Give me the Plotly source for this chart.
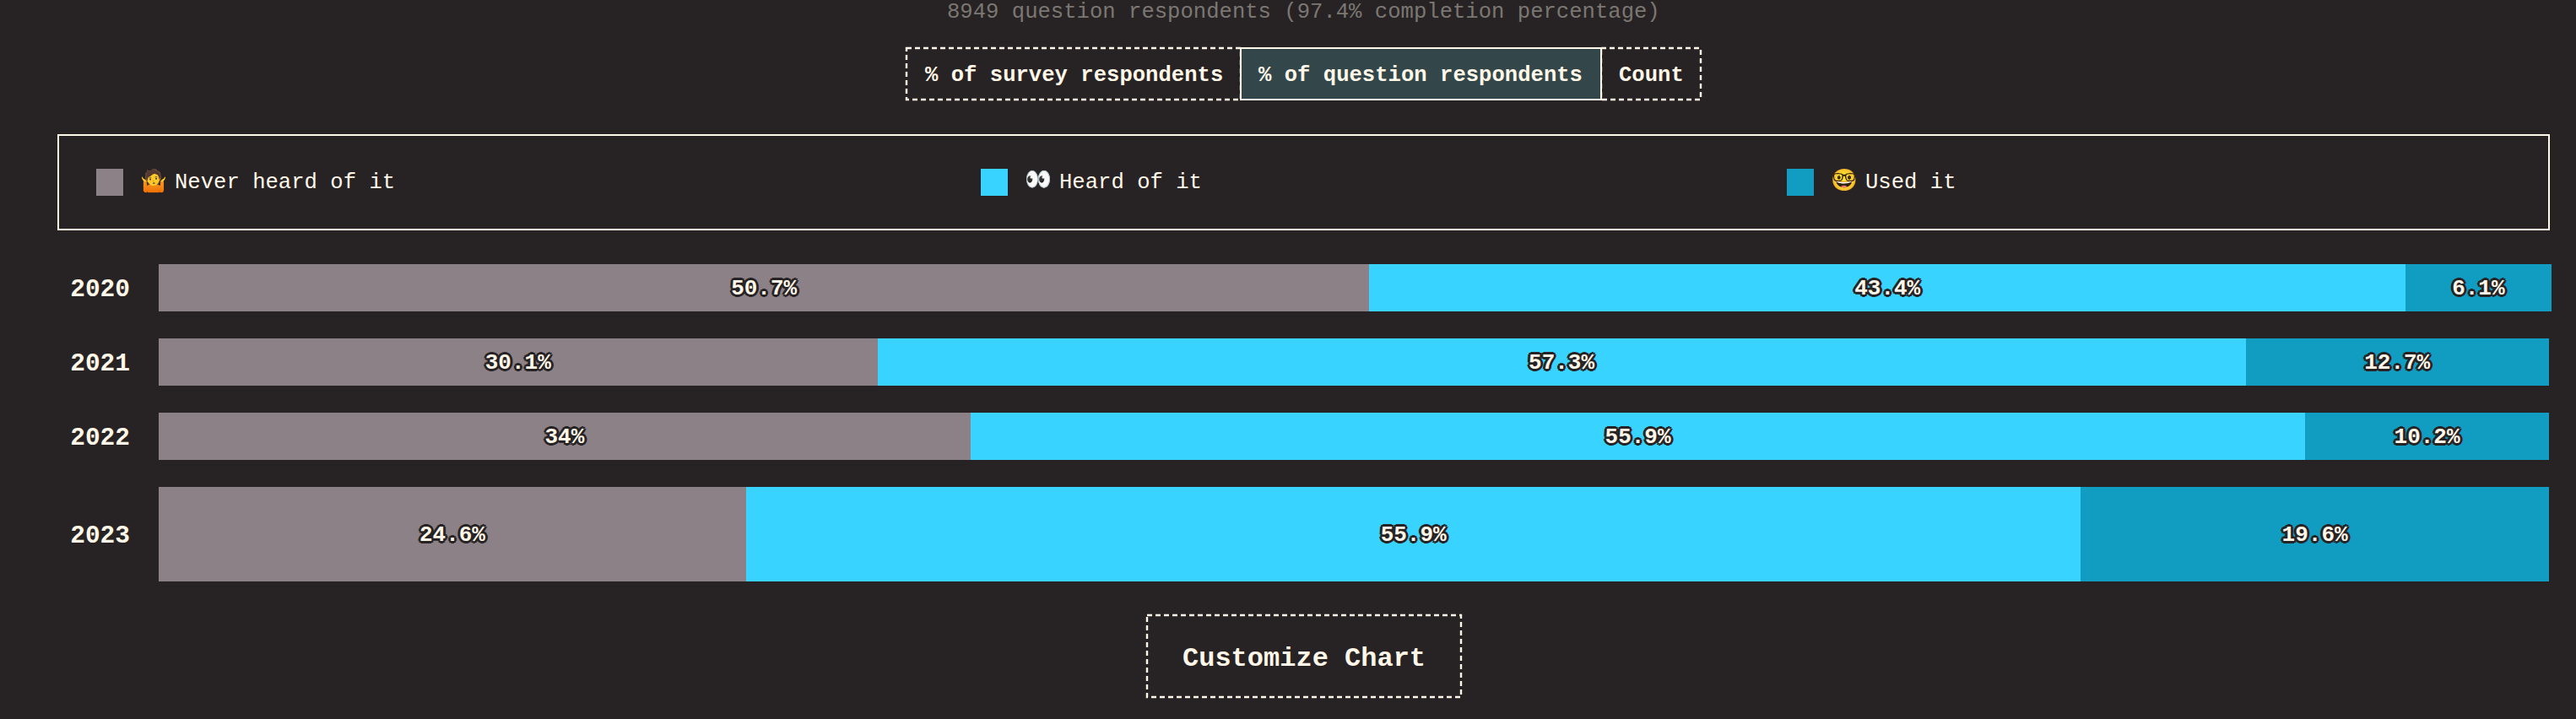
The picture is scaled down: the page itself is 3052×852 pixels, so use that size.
import plotly.graph_objects as go

W, H = 3052, 852

# ---- data ----
years = ["2020", "2021", "2022", "2023"]
never_heard = [50.7, 30.1, 34, 24.6]
heard = [43.4, 57.3, 55.9, 55.9]
used = [6.1, 12.7, 10.2, 19.6]
series_emoji = ["🤷", "👀", "🤓"]
series_names = ["Never heard of it", "Heard of it", "Used it"]
subtitle = "8949 question respondents (97.4% completion percentage)"
tab_labels = ["% of survey respondents", "% of question respondents", "Count"]
button_label = "Customize Chart"

# ---- style / layout ----
BG = "#272324"
CREAM = "#fff7e8"
COLORS = ["#8c8186", "#38d4ff", "#119cc2"]
ACTIVE = "#33474b"
MUTED = "#7b7772"
FONT = "'Liberation Mono', 'DejaVu Sans Mono', monospace, 'Noto Color Emoji'"
row_pos = [0, 1, 2, 3.3182]
row_size = [0.6364, 0.6364, 0.6364, 1.2727]
LABEL_NUDGE = 0.02  # rows are 88px apart; labels sit ~2px below the row centre

PX_PER_UNIT = 28.29
PLOT_LEFT, PLOT_TOP, PLOT_BOTTOM = 188, 313, 689
X_MAX = 100.5
plot_right = PLOT_LEFT + X_MAX * PX_PER_UNIT

def px(x):
    return x / W

def py(y):
    return 1 - y / H

outline = ", ".join(
    f"{dx}px {dy}px 0 {BG}"
    for dx, dy in [(-3, 0), (3, 0), (0, -3), (0, 3), (-2, -2), (2, -2), (-2, 2), (2, 2)]
)

fig = go.Figure()
all_series = [never_heard, heard, used]
for emoji, name, vals, col in zip(series_emoji, series_names, all_series, COLORS):
    fig.add_trace(go.Bar(
        name=f"{emoji} {name}",
        orientation="h",
        y=row_pos,
        x=vals,
        width=row_size,
        marker=dict(color=col, line=dict(width=0)),
        showlegend=False,
    ))

# value labels, centred on each stacked segment
starts = [0.0] * len(years)
for name, vals in zip(series_names, all_series):
    fig.add_trace(go.Scatter(
        name=name,
        mode="text",
        x=[s + v / 2 for s, v in zip(starts, vals)],
        y=[r + LABEL_NUDGE for r in row_pos],
        text=[f"{v:g}%" for v in vals],
        textposition="middle center",
        textfont=dict(family=FONT, size=26, color=CREAM, weight=700, shadow=outline),
        showlegend=False,
        cliponaxis=False,
    ))
    starts = [s + v for s, v in zip(starts, vals)]

shapes = []
annotations = []

def rect(x0, y0, x1, y1, line=None, fill=None, width=2, dash=None):
    shapes.append(dict(
        type="rect", xref="paper", yref="paper",
        x0=px(x0), x1=px(x1), y0=py(y0), y1=py(y1),
        fillcolor=fill or "rgba(0,0,0,0)",
        line=dict(color=line or "rgba(0,0,0,0)", width=width if line else 0, dash=dash or "solid"),
        layer="below" if fill and not line else "above",
    ))

def label(x, y, text, size=25.6, color=CREAM, weight=400, anchor="center"):
    annotations.append(dict(
        xref="paper", yref="paper", x=px(x), y=py(y), text=text, showarrow=False,
        xanchor=anchor, yanchor="middle", align=anchor,
        font=dict(family=FONT, size=size, color=color, weight=weight),
    ))

# subtitle
label(1544, 14, subtitle, color=MUTED)

# tabs
DASH = "6px,4px"
rect(1074, 57, 1470, 118, line=CREAM, dash=DASH, width=2.4)
rect(1897, 57, 2015, 118, line=CREAM, dash=DASH, width=2.4)
rect(1470, 57, 1897, 118, line=CREAM, fill=ACTIVE)
for cx, t in zip([1272, 1683, 1956], tab_labels):
    label(cx, 89, t, weight=700)

# legend box
rect(69, 160, 3020, 272, line=CREAM)
for sx, col, emoji, name in zip([114, 1162, 2117], COLORS, series_emoji, series_names):
    rect(sx, 200, sx + 32, 232, fill=col)
    label(sx + 50, 215, emoji, anchor="left")
    label(sx + 91, 216, name, anchor="left")

# customize button
rect(1359, 729, 1731, 826, line=CREAM, dash=DASH, width=2.4)
label(1545, 780, button_label, size=32, weight=700)

fig.update_layout(
    width=W, height=H,
    autosize=False,
    margin=dict(l=0, r=0, t=0, b=0),
    paper_bgcolor=BG,
    plot_bgcolor=BG,
    barmode="stack",
    font=dict(family=FONT, color=CREAM),
    shapes=shapes,
    annotations=annotations,
    xaxis=dict(
        domain=[px(PLOT_LEFT), px(plot_right)],
        range=[0, X_MAX],
        visible=False,
        fixedrange=True,
    ),
    yaxis=dict(
        domain=[py(PLOT_BOTTOM), py(PLOT_TOP)],
        range=[3.9546, -0.3182],
        tickmode="array",
        tickvals=row_pos,
        ticktext=years,
        ticks="",
        ticklabelstandoff=33,
        tickfont=dict(family=FONT, size=29.5, color=CREAM, weight=700),
        showgrid=False,
        zeroline=False,
        showline=False,
        fixedrange=True,
    ),
)

fig.write_html(
    "out.html",
    config=dict(displayModeBar=False),
    post_script=f"document.body.style.margin='0';document.body.style.background='{BG}';document.documentElement.style.overflow='hidden';",
)
